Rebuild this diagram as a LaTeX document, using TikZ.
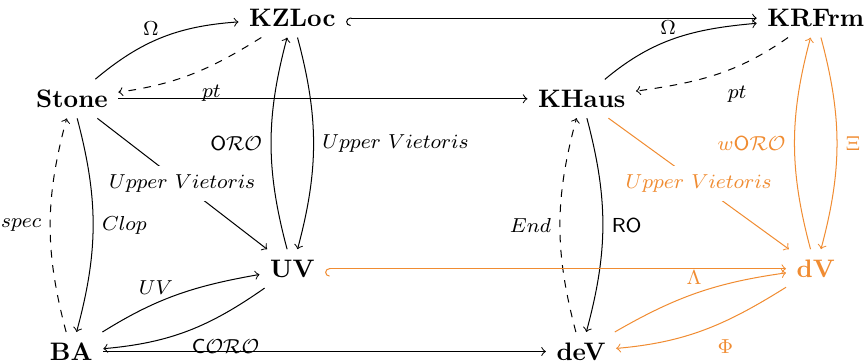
\documentclass[tikz,border=0pt]{standalone}
\usepackage{amsmath,amssymb}
\usetikzlibrary{arrows}
\definecolor{vorange}{RGB}{240,140,50}

\begin{document}
\begin{tikzpicture}[>=to, obj/.style={font=\bfseries, inner sep=4pt}, lbl/.style={font=\footnotesize}, orng/.style={vorange}]
\useasboundingbox (0,0) rectangle (12.056,5.042);
\node[obj] (Stone) at (1.00,3.67) {Stone};
\node[obj] (KZLoc) at (4.06,4.79) {KZLoc};
\node[obj] (KRFrm) at (11.33,4.79) {KRFrm};
\node[obj] (KHaus) at (8.08,3.67) {KHaus};
\node[obj] (UV) at (4.06,1.31) {UV};
\node[obj,orng] (dV) at (11.33,1.31) {dV};
\node[obj] (BA) at (0.99,0.16) {BA};
\node[obj] (deV) at (8.07,0.16) {deV};
% straight arrows
\draw[left hook->] (KZLoc) -- (KRFrm);
\draw[->] (Stone) -- (KHaus);
\draw[->] (BA) -- (deV);
\draw[->] (Stone) -- node[lbl,fill=white] {$Upper\ Vietoris$} (UV);
% left half
\draw[->] (Stone) to[out=40,in=184] node[lbl,pos=0.42,above=-1pt] {$\Omega$} (KZLoc);
\draw[->,dashed] (KZLoc) to[out=212,in=8] node[lbl,pos=0.36,below=4pt] {$pt$} (Stone);
\draw[->] (UV) to[bend left=15] node[lbl,left] {$\mathsf{O}\mathcal{RO}$} (KZLoc);
\draw[->] (KZLoc) to[bend left=15] node[lbl,right] {$Upper\ Vietoris$} (UV);
\draw[->] (Stone) to[bend left=15] node[lbl,right] {$Clop$} (BA);
\draw[->,dashed] (BA) to[bend left=15] node[lbl,left] {$spec$} (Stone);
\draw[->] (BA) to[out=32,in=190] node[lbl,pos=0.35,above] {$UV$} (UV);
\draw[->] (UV) to[out=215,in=5] node[lbl,pos=0.25,below=7pt] {$\mathsf{C}\mathcal{ORO}$} (BA);
% right half
\draw[->] (KHaus) to[out=40,in=185] node[lbl,pos=0.45,above=-1pt] {$\Omega$} (KRFrm);
\draw[->,dashed] (KRFrm) to[out=215,in=8] node[lbl,pos=0.35,below=4pt] {$pt$} (KHaus);
\draw[->] (KHaus) to[bend left=15] node[lbl,right] {$\mathsf{RO}$} (deV);
\draw[->,dashed] (deV) to[bend left=15] node[lbl,left] {$End$} (KHaus);
% orange part
\draw[left hook->,orng] (UV) -- (dV);
\draw[->,orng] (KHaus) -- node[lbl,fill=white] {$Upper\ Vietoris$} (dV);
\draw[->,orng] (dV) to[bend left=15] node[lbl,left] {$w\mathsf{O}\mathcal{RO}$} (KRFrm);
\draw[->,orng] (KRFrm) to[bend left=15] node[lbl,right] {$\Xi$} (dV);
\draw[->,orng] (deV) to[out=30,in=188] node[lbl,pos=0.48,above] {$\Lambda$} (dV);
\draw[->,orng] (dV) to[out=212,in=5] node[lbl,pos=0.37,below=4pt] {$\Phi$} (deV);
\end{tikzpicture}
\end{document}
